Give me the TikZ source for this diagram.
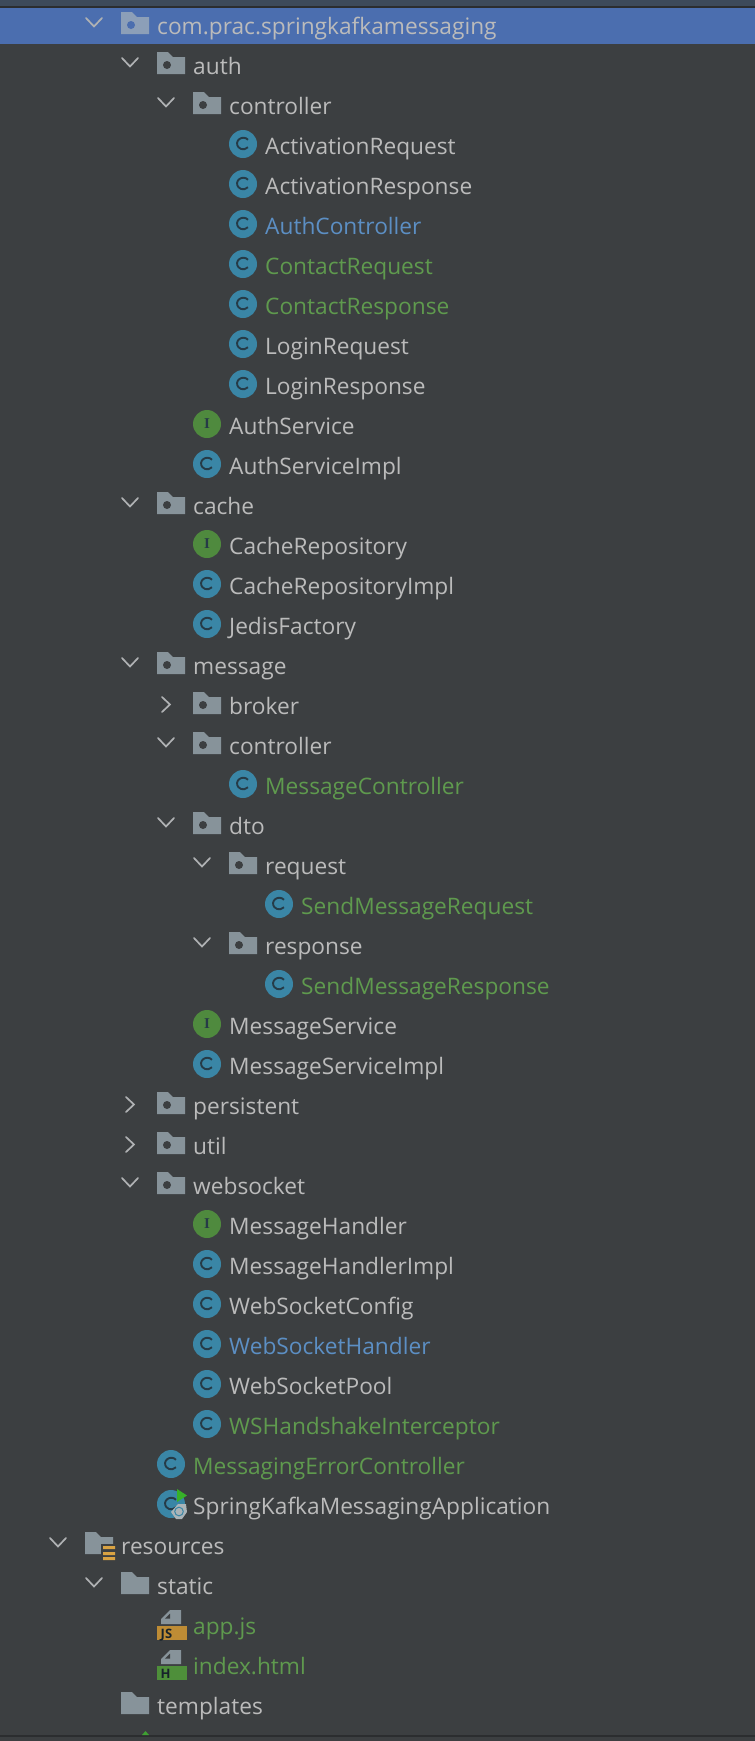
\documentclass[tikz,border=0pt]{standalone}
\usepackage{fontspec}
\setmainfont{Open Sans}
\newfontfamily\ifont{Liberation Serif}
\definecolor{bg}{HTML}{3C3F41}
\definecolor{sel}{HTML}{4B6EAF}
\definecolor{topc}{HTML}{3D4A5A}
\definecolor{linec}{HTML}{2B2D2F}
\definecolor{grey}{HTML}{BBBBBB}
\definecolor{blu}{HTML}{5C8FC4}
\definecolor{grn}{HTML}{5F9A4E}
\definecolor{fold}{HTML}{87939A}
\definecolor{foldsel}{HTML}{8C9FB8}
\definecolor{chev}{HTML}{AFB1B3}
\definecolor{clsc}{HTML}{3A86A6}
\definecolor{clsd}{HTML}{263B47}
\definecolor{intc}{HTML}{4F8A3E}
\definecolor{orng}{HTML}{D9A343}
\definecolor{jsc}{HTML}{BE8C35}
\definecolor{htmc}{HTML}{4E8F3A}
\tikzset{
 lab/.style={anchor=base west,inner sep=0pt,font=\fontsize{22.7}{26}\selectfont},
 chv/.style={draw=chev,line width=1.7pt,line cap=round,line join=miter},
}
% row centre: 24+40n ; level: 36k
\newcommand{\cy}[1]{\the\numexpr 24+40*#1\relax}
\newcommand{\lx}[1]{\the\numexpr 85+36*#1\relax}
\newcommand{\tlabel}[4]{% row, level, colour, text
 \node[lab,text=#3] (t#1) at ({\lx{#2}+36},{\cy{#1}+10}) {#4};}
\newcommand{\down}[2]{\begin{scope}[shift={(\lx{#2}-27,\cy{#1})}]
 \draw[chv] (-8,-6) -- (0,2.5) -- (8,-6);\end{scope}}
\newcommand{\rgt}[2]{\begin{scope}[shift={(\lx{#2}-27,\cy{#1})}]
 \draw[chv] (-4,-7) -- (4,0.5) -- (-4,8);\end{scope}}
\newcommand{\foldershape}[3]{\begin{scope}[shift={(\lx{#2},\cy{#1})}]
 \fill[#3] (0,-12) -- (11,-12) -- (16,-7) -- (28,-7) -- (28,10) -- (0,10) -- cycle;\end{scope}}
\newcommand{\pkg}[4]{% row level colour text
 \foldershape{#1}{#2}{fold}
 \fill[bg] ({\lx{#2}+10},{\cy{#1}+1}) circle (4);
 \tlabel{#1}{#2}{#3}{#4}}
\newcommand{\cicon}[2]{\begin{scope}[shift={(\lx{#2}+14,\cy{#1})}]
 \fill[clsc] (0,0) circle (14);
 \draw[clsd,line width=1.9pt] (5,-4.2) arc (-40:-320:6.2 and 5.8);\end{scope}}
\newcommand{\cls}[4]{\cicon{#1}{#2}\tlabel{#1}{#2}{#3}{#4}}
\newcommand{\intf}[4]{\begin{scope}[shift={(\lx{#2}+14,\cy{#1})}]
 \fill[intc] (0,0) circle (14);
 \node[inner sep=0,text=clsd,font=\ifont\bfseries\fontsize{15}{15}\selectfont] (i#1) at (0,0) {I};\end{scope}
 \tlabel{#1}{#2}{#3}{#4}}
\newcommand{\fileicon}[5]{% row level colour letter labelcolour
 \begin{scope}[shift={(\lx{#2},\cy{#1})}]
 \fill[fold] (4,-5) -- (13,-14) -- (24,-14) -- (24,0) -- (4,0) -- cycle;
 \fill[bg] (8,-5.5) -- (13,-10.5) -- (13,-5.5) -- cycle;
 \fill[#3] (0,2) rectangle (30,16);
 \node[inner sep=0,anchor=base west,text=#5,font=\bfseries\fontsize{13}{13}\selectfont] (f#1) at (3.5,14) {#4};
 \end{scope}}
\begin{document}
\begin{tikzpicture}[x=1pt,y=-1pt]
\useasboundingbox (0,0) rectangle (755,1741);
\fill[bg] (0,0) rectangle (755,1741);
\fill[topc] (0,0) rectangle (755,6);
\fill[linec] (0,6) rectangle (755,8);
\fill[sel] (0,8) rectangle (755,44);
\fill[linec] (0,1735) rectangle (755,1737);
\fill[intc!80!green] (142,1735) -- (145.5,1731) -- (149,1735) -- cycle;
% row 0
\down{0}{1}\foldershape{0}{1}{foldsel}
\fill[sel] ({\lx{1}+10},{\cy{0}+1}) circle (4);
\tlabel{0}{1}{grey}{com.prac.springkafkamessaging}
\down{1}{2}\pkg{1}{2}{grey}{auth}
\down{2}{3}\pkg{2}{3}{grey}{controller}
\cls{3}{4}{grey}{ActivationRequest}
\cls{4}{4}{grey}{ActivationResponse}
\cls{5}{4}{blu}{AuthController}
\cls{6}{4}{grn}{ContactRequest}
\cls{7}{4}{grn}{ContactResponse}
\cls{8}{4}{grey}{LoginRequest}
\cls{9}{4}{grey}{LoginResponse}
\intf{10}{3}{grey}{AuthService}
\cls{11}{3}{grey}{AuthServiceImpl}
\down{12}{2}\pkg{12}{2}{grey}{cache}
\intf{13}{3}{grey}{CacheRepository}
\cls{14}{3}{grey}{CacheRepositoryImpl}
\cls{15}{3}{grey}{JedisFactory}
\down{16}{2}\pkg{16}{2}{grey}{message}
\rgt{17}{3}\pkg{17}{3}{grey}{broker}
\down{18}{3}\pkg{18}{3}{grey}{controller}
\cls{19}{4}{grn}{MessageController}
\down{20}{3}\pkg{20}{3}{grey}{dto}
\down{21}{4}\pkg{21}{4}{grey}{request}
\cls{22}{5}{grn}{SendMessageRequest}
\down{23}{4}\pkg{23}{4}{grey}{response}
\cls{24}{5}{grn}{SendMessageResponse}
\intf{25}{3}{grey}{MessageService}
\cls{26}{3}{grey}{MessageServiceImpl}
\rgt{27}{2}\pkg{27}{2}{grey}{persistent}
\rgt{28}{2}\pkg{28}{2}{grey}{util}
\down{29}{2}\pkg{29}{2}{grey}{websocket}
\intf{30}{3}{grey}{MessageHandler}
\cls{31}{3}{grey}{MessageHandlerImpl}
\cls{32}{3}{grey}{WebSocketConfig}
\cls{33}{3}{blu}{WebSocketHandler}
\cls{34}{3}{grey}{WebSocketPool}
\cls{35}{3}{grn}{WSHandshakeInterceptor}
\cls{36}{2}{grn}{MessagingErrorController}
\cls{37}{2}{grey}{SpringKafkaMessagingApplication}
% run + gear overlay
\begin{scope}[shift={(\lx{2},\cy{37})}]
 \fill[htmc!70!green] (20,-15) -- (30,-8.5) -- (20,-2) -- cycle;
 \fill[fold!70!white] (21,0) -- (29,0) -- (30,8) -- (25,15) -- (19,15) -- (14,8) -- cycle;
 \draw[clsc,line width=1pt] (22,7.5) circle (4.3);
\end{scope}
% resources
\down{38}{0}\foldershape{38}{0}{fold}
\begin{scope}[shift={(\lx{0},\cy{38})}]
 \fill[bg] (16,0) rectangle (32,18);
 \fill[orng] (18,2) rectangle (30,5) (18,8) rectangle (30,11) (18,13) rectangle (30,16);
\end{scope}
\tlabel{38}{0}{grey}{resources}
\down{39}{1}\foldershape{39}{1}{fold}\tlabel{39}{1}{grey}{static}
\fileicon{40}{2}{jsc}{JS}{clsd!60!black}\tlabel{40}{2}{grn}{app.js}
\fileicon{41}{2}{htmc}{H}{clsd!60!black}\tlabel{41}{2}{grn}{index.html}
\foldershape{42}{1}{fold}\tlabel{42}{1}{grey}{templates}
\end{tikzpicture}
\end{document}
